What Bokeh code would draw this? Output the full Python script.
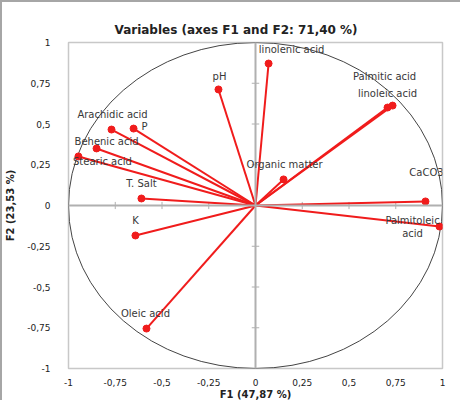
from bokeh.plotting import figure
from bokeh.models import ColumnDataSource, Span, FixedTicker, Title, Label
from bokeh.embed import file_html
from bokeh.resources import INLINE

# ---- data ----
variables = ["linolenic acid", "pH", "Palmitic acid", "linoleic acid", "Arachidic acid", "P",
             "Behenic acid", "Stearic acid", "Organic matter", "CaCO3", "T. Salt", "K",
             "Palmitoleic\nacid", "Oleic acid"]
f1 = [0.07, -0.198, 0.733, 0.706, -0.770, -0.652, -0.850, -0.947, 0.150, 0.909, -0.610, -0.642, 0.984, -0.583]
f2 = [0.871, 0.712, 0.613, 0.601, 0.466, 0.472, 0.350, 0.301, 0.160, 0.025, 0.043, -0.184, -0.129, -0.755]
# label offsets in screen pixels (layout; dy positive = up)
label_dx = [23, 1, -8, 0, 1, 11, 10, 24, 1, 1, 0, 0, -27, -1]
label_dy = [14, 13, 29, 14, 15, 2, 7, -5, 15, 29, 15, 15, 0, 15]

tick_values = [-1, -0.75, -0.5, -0.25, 0, 0.25, 0.5, 0.75, 1]
tick_labels = ["-1", "-0,75", "-0,5", "-0,25", "0", "0,25", "0,5", "0,75", "1"]

FONT = "DejaVu Sans"
RED = "#f01c1c"
LINE_H = 13

p = figure(frame_width=374, frame_height=326, output_backend="svg", toolbar_location=None,
           x_range=(-1, 1), y_range=(-1, 1),
           min_border_left=61, min_border_right=18, min_border_top=40, min_border_bottom=10)
p.styles = {"border-top": "2px solid #a6a6a6", "border-left": "2px solid #a6a6a6"}
p.background_fill_color = "white"
p.border_fill_color = "white"
p.outline_line_color = "#c8c8c8"
p.outline_line_width = 1.5
p.xgrid.visible = False
p.ygrid.visible = False

title = Title(text="Variables (axes F1 and F2: 71,40 %)", text_font=FONT,
              text_font_size="12px", text_font_style="bold", text_color="#222222",
              align="left", offset=46, standoff=12)
p.add_layout(title, "above")

for ax in (p.xaxis[0], p.yaxis[0]):
    ax.ticker = FixedTicker(ticks=tick_values)
    ax.major_label_overrides = {v: l for v, l in zip(tick_values, tick_labels)}
    ax.axis_line_color = None
    ax.major_tick_line_color = None
    ax.minor_tick_line_color = None
    ax.major_label_text_font = FONT
    ax.major_label_text_font_size = "9px"
    ax.major_label_text_color = "#222222"
    ax.axis_label_text_font = FONT
    ax.axis_label_text_font_size = "10px"
    ax.axis_label_text_font_style = "bold"
    ax.axis_label_text_color = "#222222"

p.xaxis.axis_label = "F1 (47,87 %)"
p.yaxis.axis_label = "F2 (23,53 %)"
p.xaxis.major_label_standoff = 4
p.xaxis.axis_label_standoff = 0
p.yaxis.major_label_standoff = 12
p.yaxis.axis_label_standoff = 8

# central axes
p.add_layout(Span(location=0, dimension="width", line_color="#b0b0b0", line_width=2))
p.add_layout(Span(location=0, dimension="height", line_color="#b0b0b0", line_width=2))
tv = [t for t in tick_values if t not in (-1, 0, 1)]
p.segment(x0=tv, x1=tv, y0=[-0.022] * len(tv), y1=[0.022] * len(tv), line_color="#b0b0b0", line_width=1)
p.segment(x0=[-0.02] * len(tv), x1=[0.02] * len(tv), y0=tv, y1=tv, line_color="#b0b0b0", line_width=1)

# correlation circle
p.ellipse(x=[0], y=[0], width=[2], height=[2], fill_color=None, line_color="#444444", line_width=1)

src = ColumnDataSource(dict(x=f1, y=f2, x0=[0] * len(f1), y0=[0] * len(f1)))
p.segment(x0="x0", y0="y0", x1="x", y1="y", source=src, line_color=RED, line_width=2)
p.scatter(x="x", y="y", source=src, size=7, fill_color=RED, line_color=RED)

# labels (multi-line names split into centred lines)
for name, x, y, dx, dy in zip(variables, f1, f2, label_dx, label_dy):
    lines = name.split("\n")
    n = len(lines)
    for i, line in enumerate(lines):
        p.add_layout(Label(x=x, y=y, text=line, x_offset=dx,
                           y_offset=dy - (i - (n - 1) / 2) * LINE_H,
                           text_font=FONT, text_font_size="10px", text_color="#383838",
                           text_align="center", text_baseline="middle"))

open("out.html", "w").write(file_html(p, INLINE))
